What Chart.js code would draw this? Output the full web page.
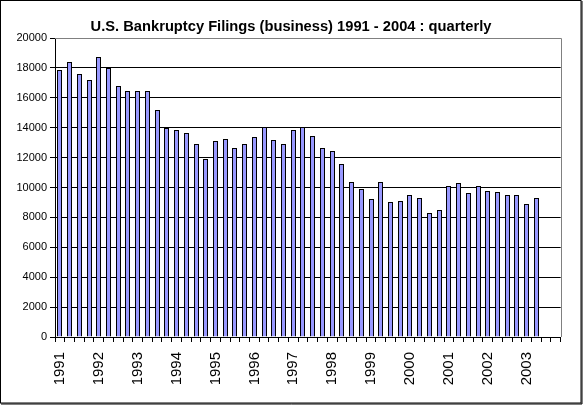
<!DOCTYPE html>
<html>
<head>
<meta charset="utf-8">
<script src="https://cdn.jsdelivr.net/npm/chart.js@4/dist/chart.umd.min.js"></script>
<style>
  html, body { margin: 0; padding: 0; background: #fff; }
  #wrap { width: 584px; height: 405px; }
</style>
</head>
<body>
<div id="wrap"><canvas id="chart" width="584" height="405"></canvas></div>
<script>
const years = ['1991', '1992', '1993', '1994', '1995', '1996', '1997',
               '1998', '1999', '2000', '2001', '2002', '2003'];
const quarters = ['Q1', 'Q2', 'Q3', 'Q4'];
const categories = years.flatMap(y => quarters.map(q => y + ' ' + q));

// business filings per quarter (2003 Q3/Q4 empty)
const filings = [
    17870, 18400, 17600, 17200,
    18730, 18000, 16800, 16470,
    16470, 16470, 15200, 14000,
    13870, 13670, 12930, 11930,
    13130, 13270, 12670, 12930,
    13400, 14030, 13200, 12930,
    13870, 14030, 13470, 12670,
    12470, 11600, 10400, 9930,
    9200, 10400, 9000, 9070,
    9470, 9270, 8270, 8470,
    10070, 10330, 9600, 10070,
    9800, 9730, 9470, 9530,
    8870, 9330, null, null
];

const yMin = 0;
const yMax = 20000;
const yStep = 2000;

// snap bars to whole pixels so the 1px outlines stay crisp
const snapBars = {
    id: 'snapBars',
    beforeDatasetsDraw(chart) {
        chart.getDatasetMeta(0).data.forEach(el => {
            el.x = Math.floor(el.x) + 0.5;
            el.y = Math.round(el.y);
            el.width = 5;
        });
    }
};

// gray top/right edge of the plot area and black frame round the chart
const frame = {
    id: 'frame',
    beforeDatasetsDraw(chart) {
        const { ctx, chartArea: a } = chart;
        ctx.save();
        ctx.strokeStyle = '#808080';
        ctx.lineWidth = 1;
        ctx.beginPath();
        ctx.moveTo(a.left, Math.round(a.top) + 0.5);
        ctx.lineTo(Math.round(a.right) + 0.5, Math.round(a.top) + 0.5);
        ctx.lineTo(Math.round(a.right) + 0.5, a.bottom);
        ctx.stroke();
        ctx.restore();
    },
    afterDraw(chart) {
        const ctx = chart.ctx;
        ctx.save();
        ctx.strokeStyle = '#000';
        ctx.lineWidth = 1;
        ctx.strokeRect(0.5, 0.5, 580.5, 402.5);
        ctx.beginPath();
        ctx.moveTo(582, 1);
        ctx.lineTo(582, 404);
        ctx.moveTo(1, 404);
        ctx.lineTo(582, 404);
        ctx.stroke();
        ctx.restore();
    }
};

new Chart(document.getElementById('chart').getContext('2d'), {
    type: 'bar',
    data: {
        labels: categories,
        datasets: [{
            label: 'Business filings',
            data: filings,
            backgroundColor: '#9999FF',
            borderColor: '#000',
            borderWidth: 1,
            borderSkipped: 'bottom',
            barPercentage: 0.5,
            categoryPercentage: 1.0
        }]
    },
    options: {
        responsive: false,
        animation: false,
        layout: { padding: { left: 14, right: 16, top: 0, bottom: 0 } },
        plugins: {
            legend: { display: false },
            tooltip: { enabled: false },
            title: {
                display: true,
                text: 'U.S. Bankruptcy Filings (business) 1991 - 2004 : quarterly',
                color: '#000',
                font: { family: 'Liberation Sans, Arial, sans-serif', size: 14.7, weight: 'bold', lineHeight: 1.2 },
                padding: { top: 18, bottom: 2.4 }
            }
        },
        scales: {
            x: {
                grid: {
                    drawOnChartArea: false,
                    drawTicks: true,
                    tickLength: 5,
                    tickColor: '#000'
                },
                border: { color: '#000', width: 1 },
                ticks: {
                    autoSkip: false,
                    maxRotation: 90,
                    minRotation: 90,
                    padding: 10,
                    color: '#000',
                    font: { family: 'Liberation Sans, Arial, sans-serif', size: 15 },
                    callback: (v, i) => i % 4 === 0 ? years[i / 4] : ''
                },
                afterFit: s => { s.height = 68; }
            },
            y: {
                min: yMin,
                max: yMax,
                grid: {
                    color: c => c.tick && c.tick.value === yMax ? '#808080' : '#000',
                    tickColor: '#000',
                    tickLength: 5
                },
                border: { color: '#000', width: 1 },
                ticks: {
                    stepSize: yStep,
                    padding: 3,
                    color: '#000',
                    font: { family: 'Liberation Sans, Arial, sans-serif', size: 11 },
                    callback: v => String(v)
                },
                afterFit: s => { s.width = 41; }
            }
        }
    },
    plugins: [snapBars, frame]
});
</script>
</body>
</html>
